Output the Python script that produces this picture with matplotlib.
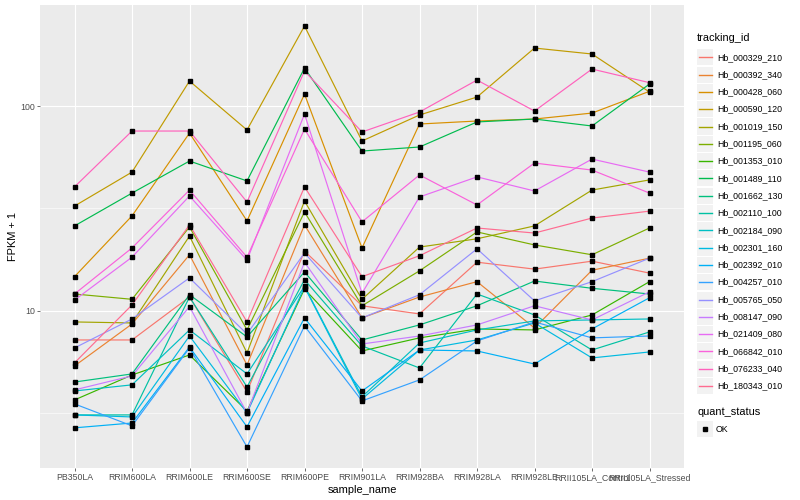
import numpy as np
import matplotlib
matplotlib.use("Agg")
import matplotlib.pyplot as plt
from matplotlib.ticker import FixedLocator, NullFormatter
from matplotlib.patches import Rectangle
from matplotlib.lines import Line2D

plt.rcParams['font.family'] = ['Liberation Sans', 'DejaVu Sans']

samples = ["PB350LA", "RRIM600LA", "RRIM600LE", "RRIM600SE", "RRIM600PE", "RRIM901LA",
           "RRIM928BA", "RRIM928LA", "RRIM928LE", "RRII105LA_Control", "RRII105LA_Stressed"]

tracking_ids = ["Hb_000329_210", "Hb_000392_340", "Hb_000428_060", "Hb_000590_120",
                "Hb_001019_150", "Hb_001195_060", "Hb_001353_010", "Hb_001489_110",
                "Hb_001662_130", "Hb_002110_100", "Hb_002184_090", "Hb_002301_160",
                "Hb_002392_010", "Hb_004257_010", "Hb_005765_050", "Hb_008147_090",
                "Hb_021409_080", "Hb_066842_010", "Hb_076233_040", "Hb_180343_010"]

# FPKM + 1 per gene, one value per sample
hb_000329_210 = [7.22, 7.22, 11.7, 4.03, 19.6, 10.6, 9.67, 17.3, 16.0, 17.5, 15.3]
hb_000392_340 = [5.39, 8.64, 18.8, 5.45, 26.3, 9.25, 11.7, 13.9, 8.26, 15.8, 18.1]
hb_000428_060 = [14.7, 29.1, 73.8, 27.5, 114.4, 20.3, 81.7, 84.5, 86.4, 92.4, 118.0]
hb_000590_120 = [32.5, 47.6, 132.4, 76.4, 245.6, 67.5, 90.4, 110.6, 191.8, 179.4, 117.0]
hb_001019_150 = [8.84, 8.74, 23.2, 6.24, 34.4, 11.4, 20.5, 22.5, 26.0, 38.9, 43.6]
hb_001195_060 = [12.1, 11.4, 25.7, 8.08, 30.4, 10.6, 15.7, 24.3, 21.0, 18.8, 25.4]
hb_001353_010 = [3.68, 4.87, 6.10, 3.25, 12.8, 6.38, 7.39, 8.17, 8.08, 9.56, 13.9]
hb_001489_110 = [26.0, 37.6, 53.9, 43.1, 153.2, 60.3, 63.1, 83.6, 86.4, 79.9, 128.0]
hb_001662_130 = [4.50, 4.93, 12.0, 7.47, 15.5, 7.22, 8.55, 10.6, 14.0, 12.9, 12.1]
hb_002110_100 = [3.11, 3.11, 11.7, 4.26, 14.2, 6.75, 5.27, 12.1, 9.56, 6.45, 7.90]
hb_002184_090 = [4.07, 4.36, 8.08, 4.93, 13.2, 3.81, 6.98, 8.08, 8.94, 9.04, 9.14]
hb_002301_160 = [3.11, 3.04, 7.55, 3.18, 13.1, 3.72, 6.45, 7.22, 8.74, 5.90, 6.31]
hb_002392_010 = [2.69, 2.84, 6.67, 2.72, 9.25, 4.07, 6.45, 6.38, 5.51, 8.17, 11.6]
hb_004257_010 = [3.52, 2.75, 6.60, 2.17, 8.45, 3.64, 4.61, 7.14, 8.84, 7.39, 7.55]
hb_005765_050 = [6.60, 9.14, 14.5, 7.72, 19.2, 9.25, 12.0, 20.1, 11.2, 13.9, 18.1]
hb_008147_090 = [4.12, 4.82, 10.5, 3.18, 17.3, 6.90, 7.55, 8.55, 10.6, 9.04, 12.4]
hb_021409_080 = [11.3, 18.3, 36.4, 17.7, 91.4, 12.2, 36.0, 45.1, 38.5, 55.1, 47.6]
hb_066842_010 = [12.1, 20.3, 38.9, 18.3, 77.2, 27.2, 46.1, 32.9, 52.7, 48.7, 37.6]
hb_076233_040 = [40.3, 75.5, 75.5, 34.0, 148.2, 74.7, 93.5, 133.9, 94.5, 151.5, 130.0]
hb_180343_010 = [5.58, 10.7, 26.3, 8.84, 40.3, 14.7, 18.6, 25.4, 24.0, 28.4, 30.7]

series = [hb_000329_210, hb_000392_340, hb_000428_060, hb_000590_120, hb_001019_150,
          hb_001195_060, hb_001353_010, hb_001489_110, hb_001662_130, hb_002110_100,
          hb_002184_090, hb_002301_160, hb_002392_010, hb_004257_010, hb_005765_050,
          hb_008147_090, hb_021409_080, hb_066842_010, hb_076233_040, hb_180343_010]

# ggplot default hue palette for 20 levels
colors = ["#F8766D", "#EA8331", "#D89000", "#C09B00", "#A3A500", "#7CAE00", "#39B600",
          "#00BB4E", "#00BF7D", "#00C1A3", "#00BFC4", "#00BAE0", "#00B0F6", "#35A2FF",
          "#9590FF", "#C77CFF", "#E76BF3", "#FA62DB", "#FF62BC", "#FF6C91"]

W, H = 800, 500
fig = plt.figure(figsize=(W / 100, H / 100), dpi=100)
fig.patch.set_facecolor('white')
ax = fig.add_axes([40 / W, 1 - 468 / H, (684 - 40) / W, (468 - 5) / H])
ax.set_facecolor('#EBEBEB')

x = np.arange(len(samples))
for vals, col in zip(series, colors):
    ax.plot(x, vals, color=col, linewidth=0.85, zorder=3)
for vals in series:
    ax.plot(x, vals, linestyle='none', marker='s', markersize=2.4,
            color='black', zorder=4)

ax.set_yscale('log')
allv = np.log10(np.concatenate([np.array(s) for s in series]))
lo, hi = allv.min(), allv.max()
pad = (hi - lo) * 0.05
ax.set_ylim(10 ** (lo - pad), 10 ** (hi + pad))
ax.set_xlim(-0.6, len(samples) - 0.4)

ax.yaxis.set_major_locator(FixedLocator([10, 100]))
ax.yaxis.set_minor_locator(FixedLocator([10 ** 0.5, 10 ** 1.5]))
ax.yaxis.set_minor_formatter(NullFormatter())
ax.set_yticklabels(["10", "100"])
ax.set_xticks(x)
ax.set_xticklabels(samples)

ax.grid(which='major', color='white', linewidth=0.8, zorder=0)
ax.grid(which='minor', axis='y', color='white', linewidth=0.4, zorder=0)
ax.set_axisbelow(True)
for s in ax.spines.values():
    s.set_visible(False)
ax.tick_params(which='major', length=2.0, width=0.5, color='#333333',
               labelsize=6.3, labelcolor='#4D4D4D', pad=1.5)
ax.tick_params(which='minor', length=0)

ax.set_xlabel("sample_name", fontsize=7.9, labelpad=2)
ax.set_ylabel("FPKM + 1", fontsize=7.9, labelpad=2)


def fx(px):
    return px / W


def fy(py):
    return 1 - py / H


# legend: tracking_id
fig.text(fx(697), fy(38), "tracking_id", fontsize=7.9, va='center', ha='left')
for i, (tid, col) in enumerate(zip(tracking_ids, colors)):
    cy = 57.3 + 17.3 * i
    fig.add_artist(Rectangle((fx(697), fy(cy + 8)), 16 / W, 16 / H,
                             facecolor='#F2F2F2', edgecolor='none',
                             transform=fig.transFigure, zorder=1))
    fig.add_artist(Line2D([fx(698.5), fx(711.5)], [fy(cy), fy(cy)], color=col,
                          linewidth=1.0, transform=fig.transFigure, zorder=5))
    fig.text(fx(717), fy(cy), tid, fontsize=6.3, va='center', ha='left')

# legend: quant_status
fig.text(fx(697), fy(412), "quant_status", fontsize=7.9, va='center', ha='left')
fig.add_artist(Rectangle((fx(697), fy(437)), 16 / W, 16 / H,
                         facecolor='#F2F2F2', edgecolor='none',
                         transform=fig.transFigure, zorder=1))
fig.add_artist(Line2D([fx(705)], [fy(429)], marker='s', markersize=2.4,
                      color='black', linestyle='none', transform=fig.transFigure,
                      zorder=5))
fig.text(fx(716), fy(429), "OK", fontsize=6.3, va='center', ha='left')

fig.savefig("out.png", dpi=100)
